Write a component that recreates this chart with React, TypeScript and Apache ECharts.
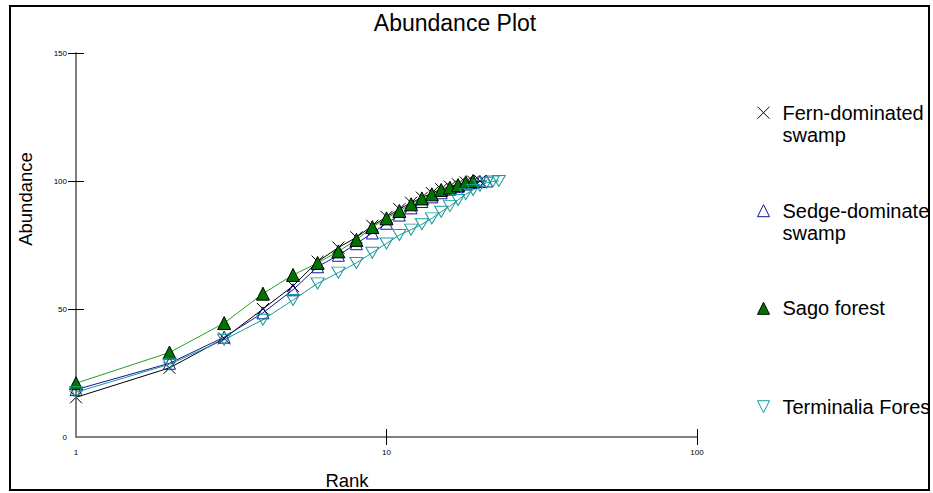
import React, { useEffect, useRef } from "react";
import * as echarts from "echarts";

const ranks = [1, 2, 3, 4, 5, 6, 7, 8, 9, 10, 11, 12, 13, 14, 15, 16, 17, 18, 19, 20, 21, 22, 23];
const fernValues = [15.5, 27, 38.5, 50, 59, 68.5, 74, 78, 82.5, 86, 89, 91.5, 93.5, 95.3, 96.8, 97.8, 98.7, 99.4, 99.8, 100];
const sedgeValues = [18.5, 28.8, 39, 48.5, 57.5, 66.5, 71, 75.5, 79.7, 83.5, 86.7, 89.5, 92, 93.8, 95.4, 96.8, 97.9, 98.8, 99.4, 99.8, 100];
const sagoValues = [21, 33, 44.5, 56, 63.3, 68, 72.5, 77, 82, 85.4, 88.3, 90.9, 93.2, 94.8, 96.5, 97.4, 98.4, 99.5, 100];
const terminaliaValues = [17.5, 28.4, 38, 45.8, 53.5, 60, 64.2, 68, 72, 75.6, 78.9, 81, 83.1, 85.4, 88, 90.2, 92.6, 94.8, 96.5, 98.2, 99.3, 99.8, 100];
const seriesNames = ["Fern-dominated swamp", "Sedge-dominated swamp", "Sago forest", "Terminalia Forest"];
const legendLabels = ["\nFern-dominated\nswamp", "\nSedge-dominated\nswamp", "Sago forest", "Terminalia Forest"];
const yTickValues = [50, 100, 150];
const xTickLogValues = [1, 2];

const FONT = "'Liberation Sans', Arial, Helvetica, sans-serif";
const X_PATH = "path://M0,0L12,12M12,0L0,12";
const DOWN_TRI = "path://M0,0L12,0L6,10Z";

const COLORS = {
  fern: "#000000",
  sedge: "#1414a0",
  sagoFill: "#007400",
  sagoLine: "#22a022",
  term: "#1a9a9a",
};

function pairs(vals: number[]) {
  return vals.map((v, i) => [ranks[i], v]);
}

export default function App() {
  const ref = useRef<HTMLDivElement>(null);

  useEffect(() => {
    if (!ref.current) return;
    const chart = echarts.init(ref.current, null, { renderer: "svg" });

    const legendTops = [79.7, 177.7, 297.3, 395.7];
    const legendIcons = [X_PATH, "triangle", "triangle", DOWN_TRI];
    const legendStyles = [
      { color: COLORS.fern, borderColor: COLORS.fern, borderWidth: 1 },
      { color: "rgba(0,0,0,0)", borderColor: COLORS.sedge, borderWidth: 1 },
      { color: COLORS.sagoFill, borderColor: "#000", borderWidth: 1 },
      { color: "rgba(0,0,0,0)", borderColor: COLORS.term, borderWidth: 1 },
    ];

    const legends = seriesNames.map((name, i) => ({
      show: true,
      orient: "vertical",
      left: 757,
      top: legendTops[i],
      padding: 0,
      itemWidth: 12,
      itemHeight: 12,
      selectedMode: false,
      symbolKeepAspect: false,
      itemStyle: legendStyles[i],
      data: [{ name, icon: legendIcons[i] }],
      formatter: () => legendLabels[i],
      textStyle: {
        fontFamily: FONT,
        fontSize: 20,
        lineHeight: 22,
        color: "#000",
        padding: [0, 0, 0, 8],
      },
    }));

    const option: any = {
      animation: false,
      backgroundColor: "#fff",
      grid: { left: 76, right: 303, top: 53, bottom: 63, containLabel: false },
      legend: legends,
      xAxis: [
        {
          type: "log",
          logBase: 10,
          min: 1,
          max: 100,
          position: "bottom",
          axisLine: { show: true, onZero: false, lineStyle: { color: "#808080", width: 2 } },
          axisTick: { show: false },
          minorTick: { show: false },
          splitLine: { show: false },
          axisLabel: { fontSize: 8, fontFamily: FONT, color: "#000", margin: 11 },
        },
        {
          type: "value",
          min: 0,
          max: 2,
          interval: 1,
          position: "bottom",
          axisLine: { show: false, onZero: false },
          axisLabel: { show: false },
          splitLine: { show: false },
          axisTick: { show: true, length: 8, customValues: xTickLogValues, lineStyle: { color: "#000", width: 1 } },
        },
        {
          type: "value",
          min: 0,
          max: 2,
          interval: 1,
          position: "bottom",
          axisLine: { show: false, onZero: false },
          axisLabel: { show: false },
          splitLine: { show: false },
          axisTick: { show: true, inside: true, length: 8, customValues: xTickLogValues, lineStyle: { color: "#000", width: 1 } },
        },
      ],
      yAxis: [
        {
          type: "value",
          min: 0,
          max: 150,
          interval: 50,
          position: "left",
          axisLine: { show: true, onZero: false, lineStyle: { color: "#808080", width: 2 } },
          axisTick: { show: true, length: 8, customValues: yTickValues, lineStyle: { color: "#000", width: 1 } },
          splitLine: { show: false },
          axisLabel: { fontSize: 8, fontFamily: FONT, color: "#000", margin: 9 },
        },
        {
          type: "value",
          min: 0,
          max: 150,
          interval: 50,
          position: "left",
          axisLine: { show: false, onZero: false },
          axisLabel: { show: false },
          splitLine: { show: false },
          axisTick: { show: true, inside: true, length: 8, customValues: yTickValues, lineStyle: { color: "#000", width: 1 } },
        },
      ],
      series: [
        {
          name: seriesNames[0],
          type: "line",
          xAxisIndex: 0,
          yAxisIndex: 0,
          data: pairs(fernValues),
          symbol: X_PATH,
          symbolSize: 12,
          itemStyle: { color: COLORS.fern, borderColor: COLORS.fern, borderWidth: 1 },
          lineStyle: { color: COLORS.fern, width: 1 },
          emphasis: { disabled: true },
        },
        {
          name: seriesNames[1],
          type: "line",
          xAxisIndex: 0,
          yAxisIndex: 0,
          data: pairs(sedgeValues),
          symbol: "triangle",
          symbolSize: 12,
          itemStyle: { color: "rgba(0,0,0,0)", borderColor: COLORS.sedge, borderWidth: 1 },
          lineStyle: { color: COLORS.sedge, width: 1 },
          emphasis: { disabled: true },
        },
        {
          name: seriesNames[2],
          type: "line",
          xAxisIndex: 0,
          yAxisIndex: 0,
          data: pairs(sagoValues),
          symbol: "triangle",
          symbolSize: 13,
          itemStyle: { color: COLORS.sagoFill, borderColor: "#000", borderWidth: 1 },
          lineStyle: { color: COLORS.sagoLine, width: 1 },
          emphasis: { disabled: true },
        },
        {
          name: seriesNames[3],
          type: "line",
          xAxisIndex: 0,
          yAxisIndex: 0,
          data: pairs(terminaliaValues),
          symbol: DOWN_TRI,
          symbolSize: [13, 11],
          itemStyle: { color: "rgba(0,0,0,0)", borderColor: COLORS.term, borderWidth: 1 },
          lineStyle: { color: COLORS.term, width: 1 },
          emphasis: { disabled: true },
        },
      ],
      graphic: [
        {
          type: "text",
          x: 455,
          y: 23,
          style: { text: "Abundance Plot", fontFamily: FONT, fontSize: 23, fill: "#000", align: "center", verticalAlign: "middle" },
        },
        {
          type: "text",
          x: 25,
          y: 199,
          rotation: Math.PI / 2,
          style: { text: "Abundance", fontFamily: FONT, fontSize: 18.5, fill: "#000", align: "center", verticalAlign: "middle" },
        },
        {
          type: "text",
          x: 347,
          y: 480,
          style: { text: "Rank", fontFamily: FONT, fontSize: 18.5, fill: "#000", align: "center", verticalAlign: "middle" },
        },
      ],
    };

    chart.setOption(option);
    return () => chart.dispose();
  }, []);

  return (
    <div
      style={{
        position: "absolute",
        left: 9,
        top: 5,
        width: 921,
        height: 486,
        border: "2px solid #000",
        boxSizing: "border-box",
        overflow: "hidden",
        background: "#fff",
      }}
    >
      <div ref={ref} style={{ position: "absolute", left: -11, top: -7, width: 1000, height: 500 }} />
    </div>
  );
}
